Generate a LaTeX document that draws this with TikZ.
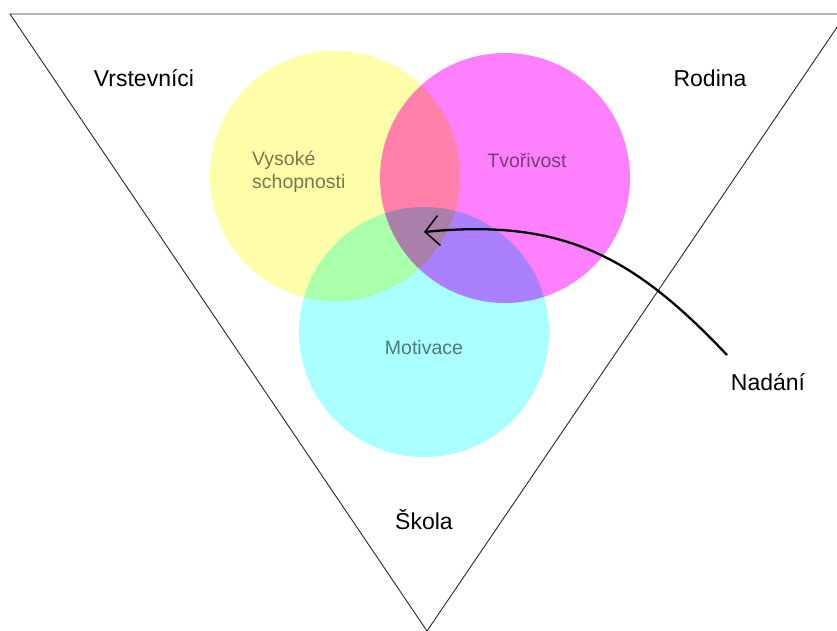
\documentclass[tikz,border=0pt]{standalone}
\usepackage{fontspec}
\setmainfont{Liberation Sans}
\usetikzlibrary{arrows.meta}
\definecolor{cyel}{RGB}{255,255,170}
\definecolor{cmag}{RGB}{255,128,255}
\definecolor{ccya}{RGB}{170,255,255}
\definecolor{ctxt}{RGB}{120,120,120}
\definecolor{cline}{RGB}{40,40,40}
\tikzset{
  setc/.style={circle, minimum size=250pt, inner sep=0pt, fill=#1},
  inlab/.style={text=ctxt, font=\fontsize{19.5}{23}\selectfont, align=left, inner sep=0pt},
  outlab/.style={text=black, font=\fontsize{23}{26}\selectfont, inner sep=0pt},
  frame/.style={draw=cline, line width=0.9pt},
  ptr/.style={draw=black, line width=2.3pt, -{Straight Barb[length=14pt,width=30pt,line width=1.5pt]}}
}
\begin{document}
\begin{tikzpicture}[x=1pt,y=-1pt]
\useasboundingbox (0,0) rectangle (837,630);
\clip (0,0) rectangle (837,630);
\fill[white] (0,0) rectangle (837,630);
\coordinate (tl) at (10,14);
\coordinate (tr) at (846,14);
\coordinate (bt) at (427,631);
\draw[frame] (tl) -- (tr) -- (bt) -- cycle;
\begin{scope}[blend mode=multiply]
\node[setc=cyel] (yel) at (335,176) {};
\node[setc=cmag] (mag) at (505,178) {};
\node[setc=ccya] (cya) at (424,332) {};
\node[inlab, anchor=west] (vys) at (252,172) {Vysoké\\schopnosti};
\node[inlab] (tvo) at (527,160) {Tvořivost};
\node[inlab] (mot) at (424,348) {Motivace};
\end{scope}
\node[outlab] (vrs) at (144,78) {Vrstevníci};
\node[outlab] (rod) at (710,78) {Rodina};
\node[outlab] (sko) at (424,520) {Škola};
\node[outlab] (nad) at (768,382) {Nadání};
\coordinate (ns) at (727,355);
\coordinate (tip) at (424,232);
\draw[ptr] (ns) .. controls (635,258) and (565,218) .. (tip);
\end{tikzpicture}
\end{document}
